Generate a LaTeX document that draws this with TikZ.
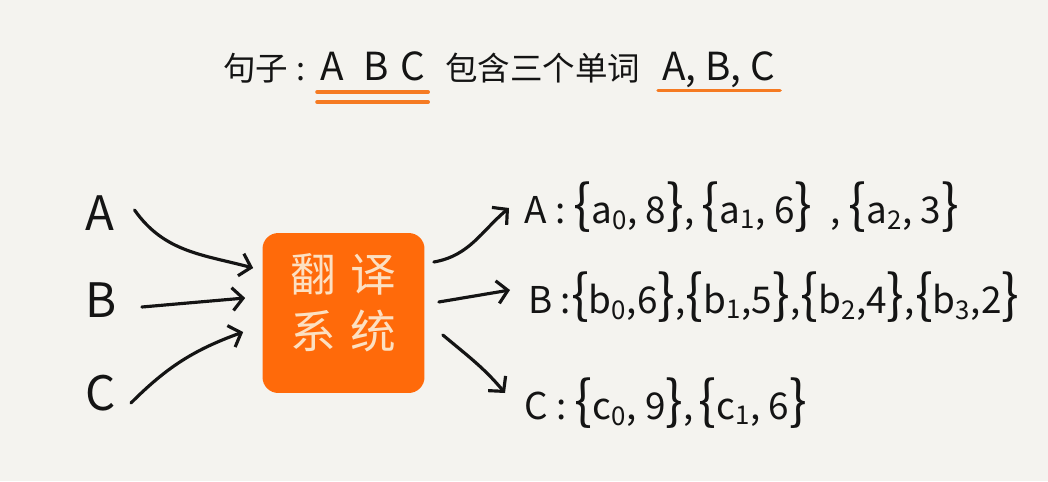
\documentclass[tikz,border=0pt]{standalone}
\usepackage{fontspec}
\setmainfont{Noto Sans CJK SC}
\usetikzlibrary{arrows.meta,positioning}
\definecolor{paper}{HTML}{F4F3EF}
\definecolor{ink}{HTML}{141414}
\definecolor{orng}{HTML}{FF6A0A}
\definecolor{cream}{HTML}{FCE0C2}
\definecolor{uline}{HTML}{F57A22}
\newcommand{\obr}{{\fontsize{30}{30}\selectfont\{}}
\newcommand{\cbr}{{\fontsize{30}{30}\selectfont\}}}

\begin{document}
\begin{tikzpicture}[x=0.02cm, y=0.02cm,
    word/.style={inner sep=0pt, anchor=base west, text=ink},
    ttl/.style={font=\fontsize{18.5}{22}\selectfont},
    lat/.style={font=\fontsize{22}{24}\selectfont},
    big/.style={font=\fontsize{27}{30}\selectfont},
    pair/.style={font=\fontsize{21}{26}\selectfont},
    arr/.style={-{Straight Barb[length=6pt,width=13pt]}, line width=1.8pt, ink, line cap=round},
    uln/.style={uline, line width=2pt, line cap=round}]
  \fill[paper] (0,0) rectangle (1048,481);
  \useasboundingbox (0,0) rectangle (1048,481);
  % title line
  \node[word, ttl] (ju) at (223,400) {句子\hspace{0.25em}:};
  \node[word, lat] (abc) at (320,400) {A\hspace{0.5em}B\hspace{0.3em}C};
  \node[word, ttl] (bh) at (445,400) {包含三个单词};
  \node[word, lat] (lst) at (662,400) {A, B, C};
  \draw[uln] ([xshift=-0.06cm,yshift=-0.22cm]abc.base west) -- ([xshift=0.06cm,yshift=-0.22cm]abc.base east);
  \draw[uln] ([xshift=-0.06cm,yshift=-0.42cm]abc.base west) -- ([xshift=0.06cm,yshift=-0.42cm]abc.base east);
  \draw[uln] ([xshift=-0.08cm,yshift=-0.19cm]lst.base west) -- ([xshift=0.1cm,yshift=-0.19cm]lst.base east);
  % inputs
  \node[word, big] (inA) at (85,251) {A};
  \node[word, big] (inB) at (85,164) {B};
  \node[word, big] (inC) at (85,71) {C};
  % translation system
  \node[fill=orng, rounded corners=9pt, minimum width=3.24cm, minimum height=3.2cm,
        text=cream, align=center, font=\fontsize{26}{32}\selectfont] (sys) at (343.5,168)
        {翻\hspace{0.3cm}译\\系\hspace{0.3cm}统\rule[-0.48cm]{0pt}{0.48cm}};
  % outputs
  \node[word, pair] (outA) at (524,258) {A\ :\ \obr a\textsubscript{0}, 8\cbr,\hspace{0.15cm}\obr a\textsubscript{1}, 6\cbr\hspace{0.2cm} ,\hspace{0.15cm}\obr a\textsubscript{2}, 3\cbr};
  \node[word, pair] (outB) at (528,168) {B :\obr b\textsubscript{0},6\cbr,\obr b\textsubscript{1},5\cbr,\obr b\textsubscript{2},4\cbr,\obr b\textsubscript{3},2\cbr};
  \node[word, pair] (outC) at (524,62) {C\ :\ \obr c\textsubscript{0}, 9\cbr,\hspace{0.1cm}\obr c\textsubscript{1}, 6\cbr};
  % arrows in
  \draw[arr] ([xshift=0.4cm,yshift=0.4cm]inA.base east) to[out=-55,in=165] ([xshift=-0.18cm,yshift=0.9cm]sys.west);
  \draw[arr] ([xshift=0.5cm,yshift=0.2cm]inB.base east) -- ([xshift=-0.34cm,yshift=0.3cm]sys.west);
  \draw[arr] ([xshift=0.3cm,yshift=0.14cm]inC.base east) to[out=45,in=200] ([xshift=-0.38cm,yshift=-0.38cm]sys.west);
  % arrows out
  \draw[arr] ([xshift=0.18cm,yshift=1.02cm]sys.east) to[out=10,in=220] ([xshift=-0.3cm,yshift=0.3cm]outA.base west);
  \draw[arr] ([xshift=0.28cm,yshift=0.22cm]sys.east) -- ([xshift=-0.36cm,yshift=0.46cm]outB.base west);
  \draw[arr] ([xshift=0.36cm,yshift=-0.44cm]sys.east) to[out=-40,in=130] ([xshift=-0.38cm,yshift=0.52cm]outC.base west);
\end{tikzpicture}
\end{document}
